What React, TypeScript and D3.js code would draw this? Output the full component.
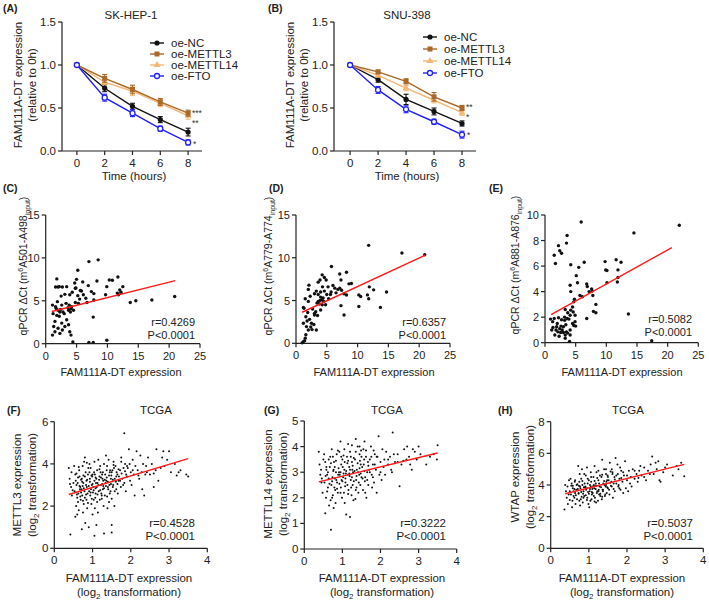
import React from "react";
import * as d3 from "d3";

const FONT = "'Liberation Sans', Arial, Helvetica, sans-serif";
const TXT = "#222";

// ---------- Panels A / B : decay curves ----------
const hours = [0, 2, 4, 6, 8];
const seriesNames = ["oe-NC", "oe-METTL3", "oe-METTL14", "oe-FTO"];
const seriesColors = ["#111111", "#a8692a", "#f5b774", "#2020ff"];

const aNC = [1.0, 0.73, 0.52, 0.365, 0.22];
const aMETTL3 = [1.0, 0.845, 0.715, 0.57, 0.44];
const aMETTL14 = [1.0, 0.8, 0.695, 0.555, 0.41];
const aFTO = [1.0, 0.62, 0.44, 0.26, 0.1];
const aErrNC = [0, 0.04, 0.035, 0.035, 0.045];
const aErrMETTL3 = [0, 0.045, 0.05, 0.04, 0.035];
const aErrMETTL14 = [0, 0.03, 0.05, 0.04, 0.04];
const aErrFTO = [0, 0.04, 0.04, 0.03, 0.03];

const bNC = [1.0, 0.83, 0.6, 0.46, 0.32];
const bMETTL3 = [1.0, 0.92, 0.81, 0.63, 0.5];
const bMETTL14 = [1.0, 0.88, 0.73, 0.59, 0.445];
const bFTO = [1.0, 0.71, 0.485, 0.34, 0.19];
const bErrNC = [0, 0.03, 0.06, 0.04, 0.03];
const bErrMETTL3 = [0, 0.02, 0.03, 0.05, 0.03];
const bErrMETTL14 = [0, 0.02, 0.03, 0.03, 0.03];
const bErrFTO = [0, 0.04, 0.04, 0.03, 0.04];

const lineYTicks = [0, 0.5, 1.0, 1.5];

// ---------- Panels C / D / E : qPCR scatter ----------
const qXTicks = [0, 5, 10, 15, 20, 25];
const cYTicks = [0, 5, 10, 15];
const eYTicks = [0, 2, 4, 6, 8, 10];

const cPoints = [
  [7.0, 9.57], [8.5, 9.77], [5.2, 8.56], [1.8, 7.55], [5.0, 7.5], [6.9, 6.77], [8.3, 7.3], [10.3, 7.43], [11.7, 7.78],
  [12.5, 6.65], [9.9, 6.65], [2.2, 6.65], [2.7, 6.6], [3.4, 6.65], [2.5, 5.55], [3.1, 5.75], [3.9, 5.7], [4.7, 7.08],
  [4.8, 6.46], [5.8, 6.15], [6.1, 5.7], [6.5, 5.3], [6.7, 4.8], [7.4, 6.07], [7.8, 5.84], [7.8, 5.1], [5.5, 5.2],
  [4.8, 4.8], [5.3, 4.7], [9.7, 5.7], [11.6, 5.9], [11.8, 5.7], [12.0, 6.26], [13.7, 4.8], [14.6, 5.0], [17.2, 5.1],
  [20.9, 5.5], [7.7, 3.1], [4.4, 0.2], [7.0, 0.15], [7.7, 0.15], [9.9, 0.4], [1.1, 1.0], [1.3, 2.0], [1.5, 2.6],
  [1.8, 3.3], [2.0, 3.9], [1.2, 3.5], [1.1, 4.5], [1.7, 4.1], [2.3, 3.7], [2.6, 2.4], [2.0, 1.8], [2.7, 1.6],
  [2.3, 1.2], [1.5, 1.4], [3.1, 2.0], [3.4, 2.8], [3.7, 2.2], [3.9, 1.4], [4.1, 1.0], [3.7, 3.9], [3.8, 4.5],
  [3.3, 4.7], [4.2, 4.3], [4.0, 3.7], [4.5, 3.9], [2.8, 3.7], [1.9, 4.9], [2.6, 4.5], [2.0, 6.6], [1.6, 6.6],
  [4.9, 6.5], [6.0, 7.2], [10.8, 7.4], [12.2, 6.0], [4.1, 4.1], [3.6, 4.2], [2.2, 3.2], [1.6, 4.3], [2.4, 4.0],
  [3.0, 3.5], [4.3, 6.0], [5.2, 5.6], [5.6, 6.2],
];
const cFit = [[1, 3.75], [21, 7.35]];

const dPoints = [
  [11.8, 11.45], [17.2, 10.55], [20.9, 10.35], [5.75, 8.98], [8.2, 8.3], [7.1, 8.1], [4.25, 8.0], [4.6, 7.7], [3.9, 7.4],
  [4.9, 7.4], [3.6, 7.15], [2.1, 6.8], [8.6, 6.95], [7.3, 7.4], [6.0, 6.75], [6.3, 6.45], [7.1, 6.45], [7.4, 6.2],
  [4.3, 6.6], [4.6, 6.1], [4.0, 6.0], [5.0, 5.7], [3.6, 5.7], [3.3, 6.1], [3.0, 5.8], [7.8, 5.8], [8.2, 5.65],
  [10.2, 5.66], [10.5, 5.47], [11.6, 5.66], [11.8, 5.2], [11.9, 6.6], [12.6, 6.25], [14.7, 6.0], [13.7, 4.2],
  [10.2, 4.3], [7.3, 4.4], [7.8, 3.3], [1.5, 5.2], [1.2, 4.2], [2.0, 4.9], [2.3, 5.5], [1.2, 2.35], [1.6, 3.1],
  [1.7, 1.95], [2.0, 1.55], [1.6, 1.0], [1.5, 0.6], [1.2, 0.2], [1.0, 0.05], [1.4, 0.3], [2.5, 2.35], [2.6, 1.6],
  [3.2, 3.7], [3.5, 3.25], [3.3, 1.55], [4.0, 3.9], [4.25, 4.5], [3.6, 4.9], [3.9, 5.0], [4.2, 5.1], [4.5, 4.9],
  [3.4, 4.7], [3.8, 4.6], [4.8, 4.5], [5.3, 5.2], [5.6, 5.7], [6.5, 5.9], [2.9, 2.2], [2.2, 2.8], [1.9, 3.6],
  [2.7, 4.0], [3.0, 3.5], [2.4, 1.9], [1.8, 2.6], [5.2, 6.6], [6.8, 6.3], [5.7, 6.0], [9.0, 7.0], [2.0, 6.3],
  [1.3, 4.1], [3.0, 3.3], [4.4, 5.3], [4.0, 5.4],
];
const dFit = [[1, 3.63], [21, 10.3]];

const ePoints = [
  [5.9, 9.45], [21.9, 9.2], [14.5, 8.6], [3.6, 8.4], [3.5, 7.8], [2.2, 7.6], [2.4, 7.2], [1.5, 6.85], [1.7, 6.2],
  [2.7, 7.0], [4.2, 6.1], [6.4, 6.3], [5.5, 5.9], [5.1, 5.25], [9.8, 6.35], [9.9, 5.7], [10.1, 5.65], [11.6, 6.5],
  [11.9, 5.7], [12.4, 6.3], [11.9, 5.1], [11.8, 4.75], [10.1, 4.7], [4.1, 4.5], [4.2, 4.0], [6.8, 4.6], [6.9, 4.4],
  [6.1, 3.6], [5.7, 3.7], [7.6, 4.2], [7.8, 3.7], [7.7, 4.05], [7.2, 4.0], [8.3, 3.0], [7.9, 2.45], [8.3, 2.35],
  [6.8, 1.9], [13.6, 2.25], [17.4, 0.15], [4.0, 0.1], [4.7, 3.2], [4.5, 2.8], [4.2, 2.55], [3.7, 2.35], [3.3, 2.6],
  [2.2, 1.95], [2.7, 1.8], [1.5, 1.9], [1.9, 1.25], [2.4, 1.1], [3.0, 1.25], [1.1, 1.0], [1.25, 1.65], [0.9, 1.85],
  [1.6, 0.6], [2.1, 0.85], [2.55, 0.8], [3.3, 0.6], [3.5, 0.85], [4.1, 1.0], [4.5, 1.5], [4.9, 2.15], [4.7, 1.35],
  [4.9, 1.65], [4.6, 2.4], [3.9, 1.85], [4.1, 2.15], [3.2, 1.75], [3.7, 0.75], [4.1, 0.6], [3.3, 0.35], [1.3, 1.2],
  [2.0, 1.5], [2.8, 1.0], [3.4, 1.4], [3.6, 1.9], [2.3, 0.5], [1.8, 1.0], [3.0, 0.8], [2.6, 1.3], [5.0, 1.3],
  [4.8, 3.4], [3.2, 2.0], [5.3, 4.7],
];
const eFit = [[1, 2.2], [20.7, 7.45]];

// ---------- Panels F / G / H : TCGA scatter ----------
const tXTicks = [0, 1, 2, 3, 4];
const fYTicks = [0, 2, 4, 6];
const gYTicks = [0, 1, 2, 3, 4, 5];
const hYTicks = [0, 2, 4, 6, 8];

const fPoints = [
  [0.38, 3.8], [0.4, 3.3], [0.42, 0.65], [0.44, 2.9], [0.46, 2.5], [0.45, 3.6], [0.48, 2.75], [0.5, 3.1], [0.41, 3.05],
  [0.52, 3.9], [0.55, 3.5], [0.56, 3.2], [0.58, 3.0], [0.53, 2.7], [0.6, 2.4], [0.62, 2.2], [0.57, 2.0], [0.64, 1.8],
  [0.6, 1.6], [0.66, 3.4], [0.68, 2.9], [0.63, 2.6], [0.65, 3.7], [0.55, 1.5], [0.69, 2.3], [0.61, 3.1], [0.67, 2.8],
  [0.59, 2.55], [0.7, 3.25], [0.8, 4.3], [0.78, 4.1], [0.74, 3.9], [0.82, 3.6], [0.72, 3.3], [0.76, 3.1], [0.85, 2.9],
  [0.79, 2.7], [0.73, 2.5], [0.84, 2.3], [0.77, 2.1], [0.86, 1.9], [0.75, 1.7], [0.81, 1.2], [0.72, 0.9], [0.88, 3.5],
  [0.83, 3.0], [0.71, 2.8], [0.87, 2.6], [0.8, 2.4], [0.89, 3.8], [0.9, 1.0], [0.76, 3.45], [0.84, 3.2], [0.74, 2.95],
  [0.92, 4.0], [0.95, 3.8], [1.0, 3.5], [0.93, 3.3], [1.05, 3.2], [0.98, 3.0], [1.02, 2.9], [0.96, 2.8], [1.08, 2.6],
  [0.94, 2.5], [1.03, 2.3], [0.97, 2.1], [1.06, 1.9], [1.0, 1.6], [1.05, 0.6], [1.1, 1.1], [1.04, 3.6], [1.09, 3.1],
  [0.91, 2.7], [1.07, 2.4], [0.99, 3.4], [1.01, 2.65], [0.93, 3.15], [1.08, 3.35], [1.15, 4.2], [1.2, 3.9], [1.12, 3.7],
  [1.25, 3.5], [1.18, 3.4], [1.28, 3.2], [1.13, 3.1], [1.22, 3.0], [1.27, 2.8], [1.16, 2.7], [1.24, 2.5], [1.19, 2.3],
  [1.29, 2.0], [1.14, 1.7], [1.3, 0.7], [1.21, 3.6], [1.26, 3.3], [1.11, 2.9], [1.23, 2.6], [1.17, 3.25], [1.28, 2.95],
  [1.35, 4.4], [1.42, 4.2], [1.38, 3.9], [1.45, 3.6], [1.33, 3.5], [1.48, 3.3], [1.36, 3.2], [1.44, 3.0], [1.4, 2.9],
  [1.47, 2.7], [1.32, 2.5], [1.43, 2.2], [1.39, 1.9], [1.46, 3.7], [1.34, 3.1], [1.41, 2.8], [1.5, 1.1], [1.37, 3.35],
  [1.49, 3.45], [1.55, 4.1], [1.6, 3.9], [1.52, 3.7], [1.65, 3.5], [1.58, 3.3], [1.68, 3.2], [1.54, 3.0], [1.62, 2.8],
  [1.66, 2.6], [1.57, 2.0], [1.5, 0.75], [1.63, 3.6], [1.69, 3.4], [1.53, 2.9], [1.61, 3.15], [1.83, 5.45], [1.75, 4.3],
  [1.85, 4.0], [1.72, 3.7], [1.88, 3.5], [1.78, 3.3], [1.83, 3.1], [1.74, 2.9], [1.87, 2.7], [1.81, 3.8], [1.9, 3.4],
  [1.95, 4.7], [2.05, 4.2], [1.92, 3.8], [2.08, 3.5], [1.98, 3.2], [2.02, 3.0], [2.1, 2.5], [2.0, 3.6], [1.97, 4.0],
  [2.15, 4.6], [2.25, 4.4], [2.32, 4.0], [2.18, 3.7], [2.38, 3.5], [2.22, 3.3], [2.3, 2.8], [2.35, 2.5], [2.12, 3.9],
  [2.28, 3.6], [2.45, 4.3], [2.55, 4.0], [2.65, 3.7], [2.5, 3.5], [2.72, 3.2], [2.6, 2.9], [2.78, 3.8], [2.67, 4.7],
  [2.42, 3.6], [2.85, 4.6], [2.95, 4.2], [2.88, 3.9], [3.05, 3.6], [3.0, 4.6], [2.82, 4.3], [3.15, 4.0], [3.25, 3.6],
  [3.45, 3.5], [3.5, 3.4], [3.3, 3.7], [3.2, 3.45],
];
const fCorePoints = [
  [0.62, 3.35], [0.66, 2.95], [0.7, 2.65], [0.73, 3.15], [0.77, 2.85], [0.8, 3.4], [0.83, 2.55], [0.86, 3.25], [0.9, 2.95],
  [0.92, 3.6], [0.95, 2.65], [0.97, 3.45], [1.0, 3.05], [1.03, 2.75], [1.06, 3.5], [1.08, 2.85], [1.1, 3.3], [1.13, 2.55],
  [1.15, 3.0], [1.18, 3.75], [1.2, 2.75], [1.22, 3.35], [1.25, 3.05], [1.27, 3.6], [1.3, 2.85], [1.32, 3.25], [1.35, 2.95],
  [1.37, 3.7], [1.4, 3.15], [1.43, 3.45], [1.45, 2.6], [1.48, 3.05], [1.5, 3.6], [1.53, 3.25], [1.56, 3.8], [1.58, 2.7],
  [1.62, 3.4], [1.65, 3.05], [1.68, 3.75], [1.72, 3.2], [1.76, 3.55], [1.8, 3.0], [1.85, 3.65], [1.9, 3.9], [0.68, 2.45],
  [0.75, 2.25], [0.88, 2.15], [0.98, 2.35], [1.12, 2.2], [1.24, 2.35], [1.38, 2.45], [1.5, 2.35], [0.58, 3.55], [0.64, 3.85],
  [0.85, 4.05], [1.05, 4.1], [1.3, 4.0], [1.55, 3.95], [1.75, 4.1], [2.05, 3.7], [2.2, 3.45], [2.4, 3.9], [2.6, 3.55],
];
const fFit = [[0.38, 2.55], [3.5, 4.25]];

const gPoints = [
  [0.38, 3.8], [0.4, 3.3], [0.42, 2.9], [0.45, 2.6], [0.48, 2.2], [0.44, 3.1], [0.5, 3.5], [0.46, 2.75],
  [0.52, 3.7], [0.55, 3.4], [0.58, 3.1], [0.6, 2.9], [0.53, 2.6], [0.62, 2.4], [0.57, 2.0], [0.65, 1.7], [0.55, 1.4],
  [0.68, 3.6], [0.64, 2.75], [0.6, 2.25], [0.67, 3.2], [0.7, 0.75], [0.69, 1.9], [0.56, 2.85], [0.72, 3.9], [0.75, 3.6],
  [0.78, 3.4], [0.8, 3.2], [0.83, 3.0], [0.74, 2.8], [0.86, 2.6], [0.79, 2.4], [0.88, 2.2], [0.73, 2.0], [0.82, 1.8],
  [0.77, 1.6], [0.85, 3.7], [0.89, 2.9], [0.71, 2.5], [0.84, 2.7], [0.81, 2.3], [0.76, 3.05], [0.95, 4.2], [0.92, 3.8],
  [1.0, 3.5], [0.97, 3.3], [1.05, 3.1], [0.93, 2.9], [1.02, 2.8], [1.08, 2.6], [0.96, 2.4], [1.04, 2.2], [0.99, 2.0],
  [1.06, 1.8], [1.1, 1.35], [1.03, 3.65], [0.91, 3.0], [1.09, 2.95], [0.98, 2.7], [1.07, 2.45], [1.01, 3.2], [1.15, 4.1],
  [1.2, 3.8], [1.12, 3.6], [1.25, 3.4], [1.18, 3.2], [1.28, 3.0], [1.14, 2.9], [1.22, 2.7], [1.27, 2.5], [1.16, 2.3],
  [1.24, 2.1], [1.2, 1.25], [1.29, 1.9], [1.13, 3.35], [1.26, 3.1], [1.19, 2.85], [1.23, 2.4], [1.3, 3.55], [1.35, 4.3],
  [1.4, 4.0], [1.45, 3.7], [1.33, 3.5], [1.48, 3.3], [1.38, 3.1], [1.44, 2.9], [1.36, 2.7], [1.47, 2.5], [1.42, 2.2],
  [1.34, 1.95], [1.49, 3.85], [1.41, 3.0], [1.37, 2.4], [1.46, 3.45], [1.5, 2.8], [1.58, 4.2], [1.55, 3.9], [1.62, 3.6],
  [1.67, 3.4], [1.52, 3.2], [1.65, 3.0], [1.6, 2.8], [1.68, 2.5], [1.54, 2.3], [1.63, 2.0], [1.57, 3.5], [1.7, 3.1],
  [1.59, 2.65], [1.75, 4.0], [1.85, 3.7], [1.72, 3.5], [1.8, 3.3], [1.88, 3.1], [1.77, 2.9], [1.83, 2.6], [1.9, 2.2],
  [1.82, 3.85], [1.78, 2.4], [1.95, 4.4], [2.05, 3.9], [1.92, 3.6], [2.0, 3.4], [2.08, 3.2], [1.97, 2.9], [2.03, 2.7],
  [2.1, 3.5], [2.15, 3.8], [2.25, 3.6], [2.32, 4.55], [2.2, 3.3], [2.38, 3.4], [2.28, 3.1], [2.12, 2.9], [2.35, 3.7],
  [2.45, 3.4], [2.5, 2.45], [2.55, 3.3], [2.62, 3.9], [2.7, 4.0], [2.75, 3.6], [2.68, 3.5], [2.78, 3.3], [2.85, 3.9],
  [2.9, 3.8], [3.0, 4.0], [2.95, 3.5], [3.05, 3.7], [2.82, 3.1], [3.2, 3.3], [3.4, 3.7], [3.48, 3.5], [3.5, 4.05],
  [3.3, 3.6],
];
const gCorePoints = [
  [0.62, 3.0], [0.66, 2.55], [0.7, 3.35], [0.73, 2.65], [0.77, 3.1], [0.8, 2.75], [0.83, 3.45], [0.86, 2.35], [0.9, 3.15],
  [0.92, 2.55], [0.95, 3.0], [0.97, 3.6], [1.0, 2.65], [1.03, 2.95], [1.06, 3.4], [1.08, 2.75], [1.1, 3.05], [1.13, 2.5],
  [1.15, 3.45], [1.18, 2.95], [1.2, 3.1], [1.22, 3.6], [1.25, 2.8], [1.27, 3.25], [1.3, 2.65], [1.32, 3.05], [1.35, 3.8],
  [1.37, 2.85], [1.4, 3.35], [1.43, 2.6], [1.45, 3.15], [1.48, 2.95], [1.5, 3.6], [1.53, 2.75], [1.56, 3.3], [1.58, 3.05],
  [1.62, 3.85], [1.65, 2.7], [1.68, 3.25], [1.72, 3.0], [1.76, 3.6], [1.8, 2.8], [1.85, 3.3], [1.9, 3.6], [0.58, 3.2],
  [0.64, 3.5], [0.88, 3.85], [1.05, 3.9], [1.25, 4.05], [1.45, 4.0], [0.75, 2.1], [0.95, 2.2], [1.15, 2.15], [1.35, 2.3],
  [1.6, 2.2], [2.0, 3.0], [2.2, 3.5], [2.3, 3.0], [2.45, 3.7], [2.6, 3.45],
];
const gFit = [[0.38, 2.62], [3.5, 3.75]];

const hPoints = [
  [0.38, 4.0], [0.36, 2.45], [0.4, 3.6], [0.42, 3.2], [0.45, 2.8], [0.47, 3.4], [0.44, 3.9], [0.5, 3.05], [0.48, 4.3],
  [0.52, 4.4], [0.55, 4.1], [0.58, 3.8], [0.6, 3.6], [0.53, 3.4], [0.62, 3.2], [0.57, 3.0], [0.65, 2.8], [0.68, 4.0],
  [0.64, 3.5], [0.6, 3.3], [0.67, 3.7], [0.56, 2.6], [0.69, 3.1], [0.54, 3.95], [0.63, 4.2], [0.72, 5.2], [0.76, 4.7],
  [0.8, 4.4], [0.75, 4.2], [0.83, 4.0], [0.78, 3.8], [0.86, 3.6], [0.73, 3.5], [0.88, 3.3], [0.79, 3.1], [0.84, 2.9],
  [0.77, 2.7], [0.82, 5.0], [0.89, 4.1], [0.71, 3.75], [0.85, 3.45], [0.81, 3.25], [0.74, 3.95], [0.87, 3.85],
  [0.95, 5.1], [0.92, 4.6], [1.0, 4.3], [0.97, 4.1], [1.05, 3.9], [0.93, 3.7], [1.02, 3.6], [1.08, 3.4], [0.96, 3.2],
  [1.04, 3.0], [0.99, 2.8], [1.06, 4.5], [1.1, 3.5], [0.91, 3.9], [1.03, 4.0], [1.09, 3.75], [0.98, 3.55], [1.07, 3.1],
  [1.01, 2.6], [1.15, 5.2], [1.2, 4.8], [1.12, 4.5], [1.25, 4.3], [1.18, 4.1], [1.28, 3.9], [1.14, 3.8], [1.22, 3.6],
  [1.27, 3.4], [1.16, 3.2], [1.24, 3.0], [1.19, 2.9], [1.29, 4.6], [1.13, 4.0], [1.26, 3.7], [1.21, 3.5], [1.3, 3.3],
  [1.17, 3.95], [1.35, 5.6], [1.4, 5.0], [1.45, 4.7], [1.33, 4.5], [1.48, 4.3], [1.38, 4.1], [1.44, 3.9], [1.36, 3.7],
  [1.47, 3.5], [1.42, 3.3], [1.34, 3.1], [1.49, 4.6], [1.41, 4.0], [1.37, 3.6], [1.46, 4.2], [1.5, 3.8], [1.55, 5.4],
  [1.6, 5.0], [1.62, 4.7], [1.67, 4.5], [1.52, 4.3], [1.65, 4.1], [1.6, 3.9], [1.68, 3.6], [1.54, 3.4], [1.63, 3.2],
  [1.57, 4.85], [1.7, 5.7], [1.59, 4.2], [1.75, 5.3], [1.85, 4.9], [1.72, 4.6], [1.8, 4.4], [1.88, 4.2], [1.77, 3.9],
  [1.83, 3.7], [1.9, 3.5], [1.82, 5.1], [1.78, 4.0], [1.95, 5.5], [2.05, 4.9], [1.92, 4.6], [2.0, 4.3], [2.08, 4.1],
  [1.97, 3.8], [2.03, 3.6], [2.1, 4.5], [2.15, 5.0], [2.25, 4.7], [2.32, 4.9], [2.2, 4.4], [2.38, 4.6], [2.28, 4.2],
  [2.12, 3.9], [2.35, 5.2], [2.45, 4.5], [2.5, 4.3], [2.55, 4.9], [2.62, 5.3], [2.66, 5.8], [2.75, 5.4], [2.7, 4.7],
  [2.78, 5.0], [2.85, 4.3], [2.88, 4.2], [3.0, 5.1], [2.95, 4.8], [3.05, 5.3], [2.82, 5.5], [3.2, 4.6], [3.3, 5.2],
  [3.42, 5.4], [3.5, 4.55], [3.35, 5.0],
];
const hCorePoints = [
  [0.62, 3.75], [0.66, 3.35], [0.7, 4.05], [0.73, 3.45], [0.77, 3.9], [0.8, 3.55], [0.83, 4.25], [0.86, 3.2], [0.9, 3.85],
  [0.92, 3.35], [0.95, 3.8], [0.97, 4.4], [1.0, 3.45], [1.03, 3.75], [1.06, 4.2], [1.08, 3.55], [1.1, 3.9], [1.13, 3.3],
  [1.15, 4.25], [1.18, 3.75], [1.2, 3.95], [1.22, 4.45], [1.25, 3.6], [1.27, 4.1], [1.3, 3.45], [1.32, 3.85], [1.35, 4.65],
  [1.37, 3.7], [1.4, 4.25], [1.43, 3.4], [1.45, 4.0], [1.48, 3.85], [1.5, 4.5], [1.53, 3.7], [1.56, 4.15], [1.58, 3.95],
  [1.62, 4.8], [1.65, 3.75], [1.68, 4.35], [1.72, 4.1], [1.76, 4.7], [1.8, 3.8], [1.85, 4.45], [1.9, 4.8], [0.58, 3.95],
  [0.64, 4.3], [0.88, 4.7], [1.05, 4.8], [1.25, 4.9], [1.45, 5.0], [0.75, 3.0], [0.95, 3.05], [1.15, 2.95], [1.35, 3.25],
  [2.0, 4.6], [2.2, 4.9], [2.3, 4.45], [2.45, 5.1], [2.6, 4.7], [0.5, 3.6],
];
const hFit = [[0.38, 3.45], [3.5, 5.3]];

// ---------- helpers ----------
function Marker({ kind, cx, cy, color }) {
  if (kind === 0) return <circle cx={cx} cy={cy} r={2.6} fill={color} />;
  if (kind === 1) return <rect x={cx - 2.5} y={cy - 2.5} width={5} height={5} fill={color} />;
  if (kind === 2) {
    const p = d3.symbol(d3.symbolTriangle, 22)();
    return <path d={p} transform={`translate(${cx},${cy})`} fill={color} />;
  }
  return <circle cx={cx} cy={cy} r={2.5} fill="#ffffff" stroke={color} strokeWidth={1.3} />;
}

function LinePanel({ xRange, xDom, label, labelX, title, titleX, ylabX, vals, errs, legendX, legendYs, stars }) {
  const x = d3.scaleLinear().domain(xDom).range(xRange);
  const y = d3.scaleLinear().domain([0, 1.5]).range([151, 22]);
  const fmt = d3.format(".1f");
  const line = d3.line().x((d) => x(d[0])).y((d) => y(d[1]));
  const order = [0, 2, 1, 3];
  return (
    <g>
      <text x={labelX} y={12} fontWeight="bold" fontSize={10.5}>{label}</text>
      <text x={titleX} y={19} textAnchor="middle" fontSize={11.5}>{title}</text>
      <text transform={`translate(${ylabX},85) rotate(-90)`} textAnchor="middle" fontSize={11.5}>FAM111A-DT expression</text>
      <text transform={`translate(${ylabX + 14},85) rotate(-90)`} textAnchor="middle" fontSize={11.5}>(relative to 0h)</text>
      <line x1={xRange[0]} x2={xRange[0]} y1={y(1.5)} y2={y(0)} stroke={TXT} strokeWidth={1.2} />
      <line x1={xRange[0]} x2={xRange[1]} y1={y(0)} y2={y(0)} stroke={TXT} strokeWidth={1.2} />
      {lineYTicks.map((t) => (
        <g key={t}>
          <line x1={xRange[0] - 4} x2={xRange[0]} y1={y(t)} y2={y(t)} stroke={TXT} strokeWidth={1.2} />
          <text x={xRange[0] - 6} y={y(t) + 4} textAnchor="end" fontSize={11.5}>{fmt(t)}</text>
        </g>
      ))}
      {hours.map((t) => (
        <g key={t}>
          <line x1={x(t)} x2={x(t)} y1={y(0)} y2={y(0) + 4} stroke={TXT} strokeWidth={1.2} />
          <text x={x(t)} y={y(0) + 16} textAnchor="middle" fontSize={11.5}>{t}</text>
        </g>
      ))}
      <text x={(xRange[0] + xRange[1]) / 2 + 2} y={180} textAnchor="middle" fontSize={11.5}>Time (hours)</text>
      {order.map((si) => {
        const pts = hours.map((h, i) => [h, vals[si][i]]);
        const col = seriesColors[si];
        return (
          <g key={si}>
            <path d={line(pts)} fill="none" stroke={col} strokeWidth={1.4} />
            {hours.map((h, i) => {
              const e = errs[si][i];
              if (!e) return null;
              const v = vals[si][i];
              return (
                <g key={i} stroke={col} strokeWidth={1.1}>
                  <line x1={x(h)} x2={x(h)} y1={y(v - e)} y2={y(v + e)} />
                  <line x1={x(h) - 2.5} x2={x(h) + 2.5} y1={y(v - e)} y2={y(v - e)} />
                  <line x1={x(h) - 2.5} x2={x(h) + 2.5} y1={y(v + e)} y2={y(v + e)} />
                </g>
              );
            })}
            {hours.map((h, i) => (
              <Marker key={"m" + i} kind={si} cx={x(h)} cy={y(vals[si][i])} color={col} />
            ))}
          </g>
        );
      })}
      {seriesNames.map((n, i) => (
        <g key={n}>
          <line x1={legendX} x2={legendX + 14} y1={legendYs[i]} y2={legendYs[i]} stroke={seriesColors[i]} strokeWidth={1.4} />
          <Marker kind={i} cx={legendX + 7} cy={legendYs[i]} color={seriesColors[i]} />
          <text x={legendX + 21} y={legendYs[i] + 4} fontSize={11.5}>{n}</text>
        </g>
      ))}
      {stars.map((s, i) => (
        <text key={i} x={s[0]} y={s[1]} fontSize={8.5} fill="#333">{s[2]}</text>
      ))}
    </g>
  );
}

function QpcrYLabel({ x, y, site }) {
  return (
    <text transform={`translate(${x},${y}) rotate(-90)`} textAnchor="middle" fontSize={10.5}>
      qPCR ΔCt (m<tspan dy={-4} fontSize={7}>6</tspan>
      <tspan dy={4}>{site}</tspan>
      <tspan dy={3} fontSize={7}>input</tspan>
      <tspan dy={-3}>)</tspan>
    </text>
  );
}

function Log2Label({ x, y, first, rotate }) {
  if (rotate) {
    return (
      <g>
        <text transform={`translate(${x},${y}) rotate(-90)`} textAnchor="middle" fontSize={11.5}>{first}</text>
        <text transform={`translate(${x + 15},${y}) rotate(-90)`} textAnchor="middle" fontSize={11.5}>
          (log<tspan dy={3} fontSize={8}>2</tspan><tspan dy={-3}> transformation)</tspan>
        </text>
      </g>
    );
  }
  return (
    <g>
      <text x={x} y={y} textAnchor="middle" fontSize={11.5}>{first}</text>
      <text x={x} y={y + 14} textAnchor="middle" fontSize={11.5}>
        (log<tspan dy={3} fontSize={8}>2</tspan><tspan dy={-3}> transformation)</tspan>
      </text>
    </g>
  );
}

function ScatterPanel({ xr, yr, xDom, yDom, xTicks, yTicks, pts, fit, dotR, rText, annoX, annoY, fs }) {
  const x = d3.scaleLinear().domain(xDom).range(xr);
  const y = d3.scaleLinear().domain(yDom).range(yr);
  return (
    <g>
      <line x1={xr[0]} x2={xr[0]} y1={yr[0]} y2={yr[1]} stroke={TXT} strokeWidth={1.2} />
      <line x1={xr[0]} x2={xr[1]} y1={yr[0]} y2={yr[0]} stroke={TXT} strokeWidth={1.2} />
      {yTicks.map((t) => (
        <g key={"y" + t}>
          <line x1={xr[0] - 4} x2={xr[0]} y1={y(t)} y2={y(t)} stroke={TXT} strokeWidth={1.2} />
          <text x={xr[0] - 6} y={y(t) + 4} textAnchor="end" fontSize={fs}>{t}</text>
        </g>
      ))}
      {xTicks.map((t) => (
        <g key={"x" + t}>
          <line x1={x(t)} x2={x(t)} y1={yr[0]} y2={yr[0] + 4} stroke={TXT} strokeWidth={1.2} />
          <text x={x(t)} y={yr[0] + 16} textAnchor="middle" fontSize={fs}>{t}</text>
        </g>
      ))}
      {pts.map((p, i) => (
        <circle key={i} cx={x(p[0])} cy={y(p[1])} r={dotR} fill="#111" />
      ))}
      <line x1={x(fit[0][0])} y1={y(fit[0][1])} x2={x(fit[1][0])} y2={y(fit[1][1])} stroke="#ff1a1a" strokeWidth={1.4} />
      <text x={annoX} y={annoY} textAnchor="end" fontSize={fs}>{rText}</text>
      <text x={annoX} y={annoY + 13} textAnchor="end" fontSize={fs}>P&lt;0.0001</text>
    </g>
  );
}

export default function App() {
  return (
    <svg width={709} height={600} style={{ position: "absolute", left: 0, top: 0 }} fontFamily={FONT} fill={TXT}>
      <rect width={709} height={600} fill="#ffffff" />
      <LinePanel
        xRange={[62, 202]} xDom={[-1.07, 9]} label="(A)" labelX={3} title="SK-HEP-1" titleX={131}
        ylabX={22} vals={[aNC, aMETTL3, aMETTL14, aFTO]} errs={[aErrNC, aErrMETTL3, aErrMETTL14, aErrFTO]}
        legendX={150} legendYs={[43, 54, 65, 76]}
        stars={[[192, 116, "***"], [192, 126, "**"], [193, 147, "*"]]}
      />
      <LinePanel
        xRange={[334, 476]} xDom={[-1.15, 9]} label="(B)" labelX={268} title="SNU-398" titleX={407}
        ylabX={294} vals={[bNC, bMETTL3, bMETTL14, bFTO]} errs={[bErrNC, bErrMETTL3, bErrMETTL14, bErrFTO]}
        legendX={423} legendYs={[37, 49, 61, 73]}
        stars={[[466, 110, "**"], [466, 120, "*"], [467, 138, "*"]]}
      />

      <text x={3} y={192} fontWeight="bold" fontSize={10.5}>(C)</text>
      <text x={269} y={192} fontWeight="bold" fontSize={10.5}>(D)</text>
      <text x={489} y={192} fontWeight="bold" fontSize={10.5}>(E)</text>

      <ScatterPanel xr={[45.7, 200]} yr={[343.7, 215]} xDom={[0, 25]} yDom={[0, 15]} xTicks={qXTicks} yTicks={cYTicks}
        pts={cPoints} fit={cFit} dotR={1.7} rText="r=0.4269" annoX={195} annoY={326} fs={11} />
      <QpcrYLabel x={27} y={266} site="A501-A498" />
      <text x={121} y={376} textAnchor="middle" fontSize={11}>FAM111A-DT expression</text>

      <ScatterPanel xr={[296, 450]} yr={[343.3, 215]} xDom={[0, 25]} yDom={[0, 15]} xTicks={qXTicks} yTicks={cYTicks}
        pts={dPoints} fit={dFit} dotR={1.7} rText="r=0.6357" annoX={446} annoY={326} fs={11} />
      <QpcrYLabel x={272} y={266} site="A779-A774" />
      <text x={374} y={376} textAnchor="middle" fontSize={11}>FAM111A-DT expression</text>

      <ScatterPanel xr={[545, 698.3]} yr={[342.7, 215]} xDom={[0, 25]} yDom={[0, 10]} xTicks={qXTicks} yTicks={eYTicks}
        pts={ePoints} fit={eFit} dotR={1.7} rText="r=0.5082" annoX={692} annoY={323} fs={11} />
      <QpcrYLabel x={519} y={265} site="A881-A876" />
      <text x={622} y={376} textAnchor="middle" fontSize={11}>FAM111A-DT expression</text>

      <text x={7} y={414} fontWeight="bold" fontSize={10.5}>(F)</text>
      <text x={264} y={414} fontWeight="bold" fontSize={10.5}>(G)</text>
      <text x={498} y={414} fontWeight="bold" fontSize={10.5}>(H)</text>
      <text x={156} y={414} textAnchor="middle" fontSize={11.5}>TCGA</text>
      <text x={387} y={414} textAnchor="middle" fontSize={11.5}>TCGA</text>
      <text x={628} y={414} textAnchor="middle" fontSize={11.5}>TCGA</text>

      <ScatterPanel xr={[54.3, 207.3]} yr={[548.3, 421.7]} xDom={[0, 4]} yDom={[0, 6]} xTicks={tXTicks} yTicks={fYTicks}
        pts={[...fPoints, ...fCorePoints]} fit={fFit} dotR={1.0} rText="r=0.4528" annoX={195} annoY={527} fs={11.5} />
      <Log2Label x={21} y={485} first="METTL3 expression" rotate />
      <Log2Label x={129} y={582} first="FAM111A-DT expression" />

      <ScatterPanel xr={[304.3, 456.7]} yr={[549, 421]} xDom={[0, 4]} yDom={[0, 5]} xTicks={tXTicks} yTicks={gYTicks}
        pts={[...gPoints, ...gCorePoints]} fit={gFit} dotR={1.0} rText="r=0.3222" annoX={446} annoY={527} fs={11.5} />
      <Log2Label x={272} y={484} first="METTL14 expression" rotate />
      <Log2Label x={382} y={582} first="FAM111A-DT expression" />

      <ScatterPanel xr={[550.7, 703.3]} yr={[548.3, 421.7]} xDom={[0, 4]} yDom={[0, 8]} xTicks={tXTicks} yTicks={hYTicks}
        pts={[...hPoints, ...hCorePoints]} fit={hFit} dotR={1.0} rText="r=0.5037" annoX={693} annoY={527} fs={11.5} />
      <Log2Label x={519} y={477} first="WTAP expression" rotate />
      <Log2Label x={622} y={582} first="FAM111A-DT expression" />
    </svg>
  );
}
